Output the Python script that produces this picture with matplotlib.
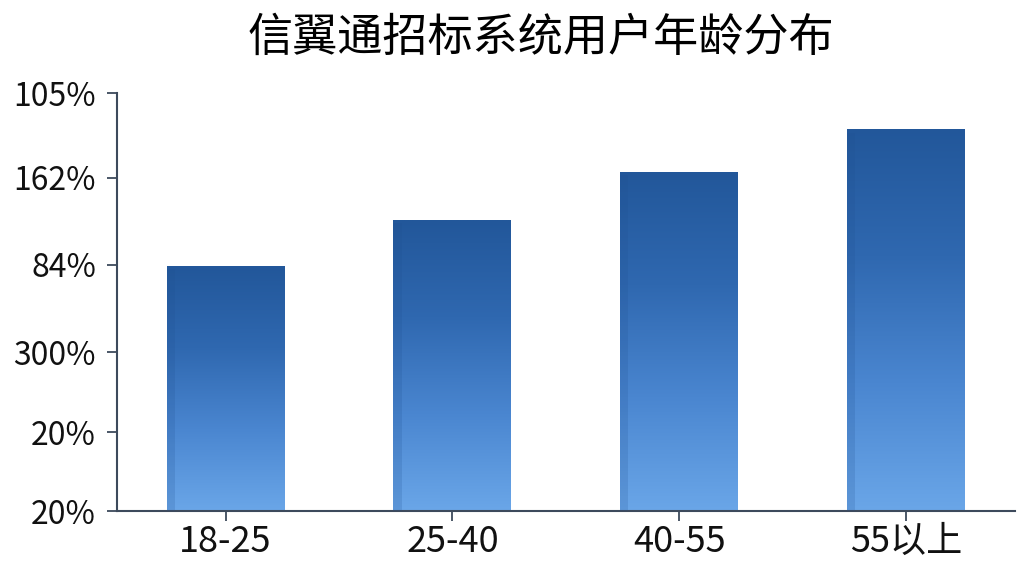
import matplotlib
matplotlib.use("Agg")
import matplotlib.pyplot as plt
import numpy as np
from matplotlib.colors import LinearSegmentedColormap

plt.rcParams['font.family'] = ['Noto Sans CJK SC', 'DejaVu Sans']

title = "信翼通招标系统用户年龄分布"
categories = ["18-25", "25-40", "40-55", "55以上"]
values = [58.6, 69.6, 81.1, 91.4]
ytick_pos = [0, 18.9, 38.0, 58.9, 79.7, 100]
ytick_labels = ["20%", "20%", "300%", "84%", "162%", "105%"]

fig = plt.figure(figsize=(10.24, 5.76), dpi=100)
ax = fig.add_axes([0.114, 0.1128, 0.877, 0.7257])

x = np.arange(len(categories))
bars = ax.bar(x, values, width=0.52, color="none", edgecolor="none", zorder=2)

cmap = LinearSegmentedColormap.from_list("g", ["#6aa6e8", "#4a86d0", "#2f68b0", "#22579a"])
grad = np.linspace(0, 1, 256).reshape(-1, 1)
for b in bars:
    x0, y0 = b.get_x(), b.get_y()
    w, h = b.get_width(), b.get_height()
    im = ax.imshow(grad, extent=[x0, x0 + w, y0, y0 + h], origin="lower",
                   cmap=cmap, aspect="auto", zorder=2)
    im.set_clip_path(b)
    # darker left strip
    ax.bar(x0 + w * 0.035, h * 0.99, width=w * 0.07, bottom=y0,
           color="#1f4f8f", alpha=0.18, edgecolor="none", zorder=3)

ax.set_xlim(-0.48, 3.48)
ax.set_ylim(0, 100)
ax.set_xticks(x)
ax.set_xticklabels(categories, fontsize=26, color="#111111")
ax.set_yticks(ytick_pos)
ax.set_yticklabels(ytick_labels, fontsize=23, color="#111111")

for s in ["top", "right"]:
    ax.spines[s].set_visible(False)
for s in ["left", "bottom"]:
    ax.spines[s].set_color("#3d4a5c")
    ax.spines[s].set_linewidth(1.5)
ax.tick_params(axis="both", colors="#3d4a5c", length=7, width=1.3, labelcolor="#111111")
ax.tick_params(axis="x", pad=2)
ax.tick_params(axis="y", pad=8)

fig.text(0.528, 0.935, title, ha="center", va="center", fontsize=32.5, fontweight="medium", color="#000000")

fig.savefig("out.png", dpi=100, facecolor="white")
